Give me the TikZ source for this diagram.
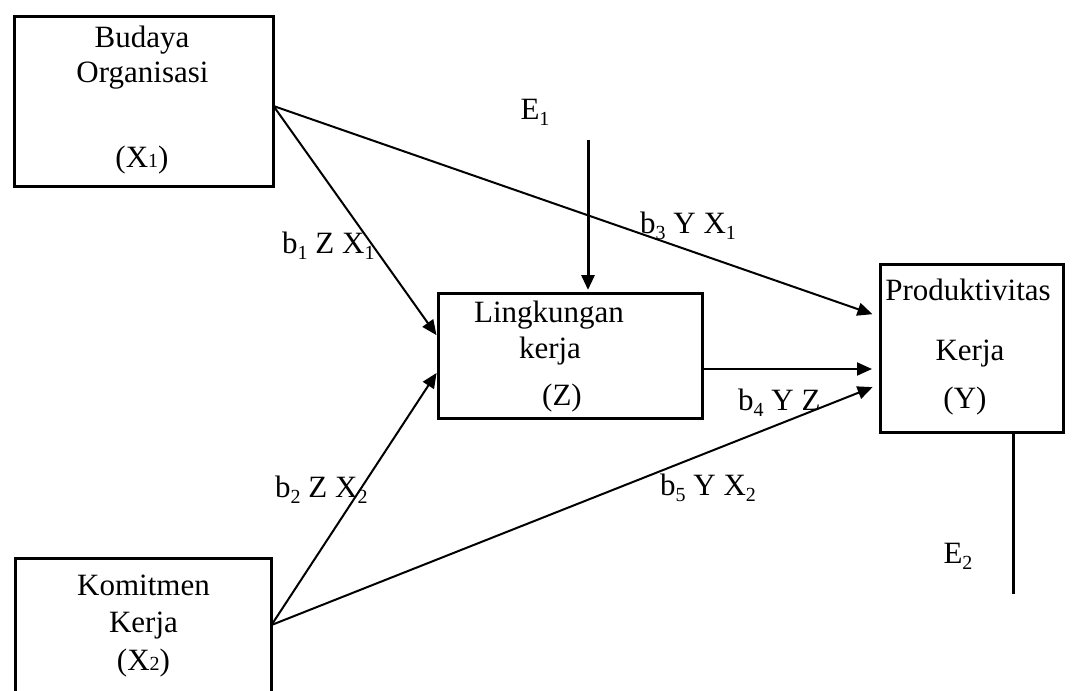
\documentclass[tikz,border=0pt]{standalone}
\usepackage{fontspec}
\setmainfont{Liberation Serif}
\usetikzlibrary{arrows.meta,calc}
\newcommand\sbs[1]{\raisebox{-0.22em}{\fontsize{20}{20}\selectfont #1}}
\newcommand\smn[1]{{\fontsize{20}{20}\selectfont #1}}
\begin{document}
\begin{tikzpicture}[x=1pt,y=-1pt,
  box/.style={draw,line width=3pt,outer sep=0pt,inner sep=0pt},
  txt/.style={anchor=base,inner sep=0pt,font=\fontsize{31}{36}\selectfont},
  lbl/.style={anchor=base west,inner sep=0pt,font=\fontsize{31}{36}\selectfont},
  arr/.style={line width=2pt,-{Triangle[length=15pt,width=13pt]}},
]
\useasboundingbox[fill=white] (0,0) rectangle (1072,691);
% boxes
\node[box,minimum width=259pt,minimum height=170pt] (X1) at (144,101.5) {};
\node[box,minimum width=256pt,minimum height=136.5pt] (X2) at (143.5,626.75) {};
\node[box,minimum width=264pt,minimum height=125pt] (Z) at (570.5,356) {};
\node[box,minimum width=183pt,minimum height=168pt] (Y) at (972,348.5) {};
% box texts
\node[txt] (t1a) at (142,47) {Budaya};
\node[txt] (t1b) at (142.5,82) {Organisasi};
\node[txt] (t1c) at (142,167) {(X\smn{1})};
\node[txt] (t2a) at (143.5,595) {Komitmen};
\node[txt] (t2b) at (143.5,632) {Kerja};
\node[txt] (t2c) at (143.5,670) {(X\smn{2})};
\node[txt] (tza) at (549,322) {Lingkungan};
\node[txt] (tzb) at (550,358) {kerja};
\node[txt] (tzc) at (562,405) {(Z)};
\node[txt] (tya) at (968,300) {Produktivitas};
\node[txt] (tyb) at (970,360) {Kerja};
\node[txt] (tyc) at (965,408) {(Y)};
% error terms
\node[txt] (E1) at (535,119) {E\sbs{1}};
\node[txt] (E2) at (958,563) {E\sbs{2}};
\coordinate (e1top) at (588,140);
\coordinate (e2end) at (1013,594);
\draw[line width=3pt,-{Triangle[length=15pt,width=13pt]},shorten >=3.5pt] (e1top) -- (e1top |- Z.north);
\draw[line width=3pt] (e2end |- Y.south) -- (e2end);
% arrows
\draw[arr,shorten >=3.5pt] ([yshift=-4.5pt]X1.east) -- ([yshift=18pt]Z.west);
\draw[arr,shorten >=8.5pt] ([yshift=-4.5pt]X1.east) -- ([yshift=31.5pt]Y.west);
\draw[arr,shorten >=3.5pt] ([yshift=1.75pt]X2.east) -- ([yshift=-14pt]Z.west);
\draw[arr,shorten >=8.5pt] ([yshift=1.75pt]X2.east) -- ([yshift=-35.5pt]Y.west);
\draw[arr,shorten >=8.5pt] ([yshift=-13pt]Z.east) -- ([yshift=-20.5pt]Y.west);
% path labels
\node[lbl] (l1) at (282,253) {b\sbs{1} Z X\sbs{1}};
\node[lbl] (l2) at (275,497) {b\sbs{2} Z X\sbs{2}};
\node[lbl] (l3) at (640,233) {b\sbs{3} Y X\sbs{1}};
\node[lbl] (l4) at (738,410) {b\sbs{4} Y Z};
\node[lbl] (l5) at (660,495) {b\sbs{5} Y X\sbs{2}};
\end{tikzpicture}
\end{document}
